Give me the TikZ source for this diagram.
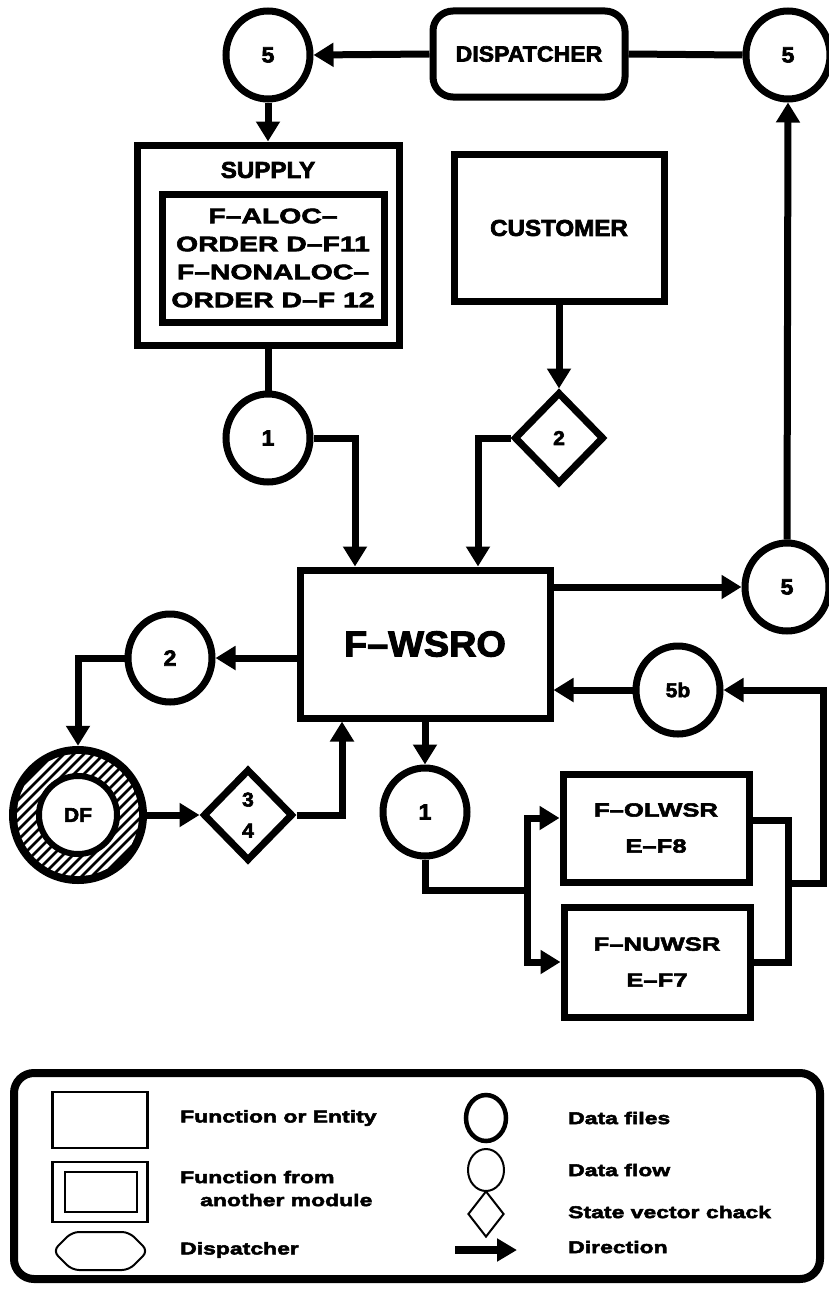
\documentclass[tikz,border=0pt]{standalone}
\usepackage{fontspec}
\usepackage{graphicx}
\usetikzlibrary{arrows.meta,shapes.geometric,calc}
\newfontfamily\fW[FakeStretch=1.35,FakeBold=3]{Liberation Sans}
\newfontfamily\fN[FakeStretch=1.05,FakeBold=3]{Liberation Sans}
\newcommand\fsz[2]{\fontsize{#1}{#2}\selectfont}
\begin{document}
\begin{tikzpicture}[x=1pt,y=-1pt,
  ln/.style={line width=7pt},
  arr/.style={line width=7pt,-{Triangle[length=20pt,width=23pt]}},
  fbox/.style={draw,rectangle,line width=7pt,inner sep=0pt,align=center},
  flow/.style={draw,ellipse,line width=7pt,minimum width=84pt,minimum height=88pt,inner sep=0pt,font=\fN\bfseries\fsz{22}{26}},
  chk/.style={draw,diamond,line width=7pt,minimum width=90pt,minimum height=92pt,inner sep=0pt,align=center,font=\fN\bfseries\fsz{20}{31}},
  lgt/.style={anchor=west,inner sep=0pt,font=\fW\bfseries\fsz{17}{20}},
  thin/.style={draw,line width=2.5pt,inner sep=0pt}
]
\useasboundingbox (0,0) rectangle (828,1290);

% top row
\node[flow] (c5a) at (268,55) {5};
\node[fbox,rounded corners=20pt,minimum width=192pt,minimum height=86pt,font=\fN\bfseries\fsz{22}{26}] (disp) at (529,54) {DISPATCHER};
\node[flow] (c5b) at (788,55) {5};

% supply
\node[fbox,minimum width=262pt,minimum height=200pt] (sup) at (268,245) {};
\node[font=\fN\bfseries\fsz{23}{26},inner sep=0pt] (suptitle) at (268,170) {SUPPLY};
\node[fbox,minimum width=222pt,minimum height=128pt,font=\fW\bfseries\fsz{21}{28}] (supin) at (273,258) {F–ALOC–\\ORDER D–F11\\F–NONALOC–\\ORDER D–F 12};

% customer
\node[fbox,minimum width=210pt,minimum height=147pt,font=\fN\bfseries\fsz{23}{26}] (cust) at (559,228) {CUSTOMER};

% middle
\node[flow] (c1a) at (268,438) {1};
\node[chk] (chk2) at (559,438) {2};
\node[fbox,minimum width=250pt,minimum height=148pt,font=\fN\bfseries\fsz{36}{40}] (wsro) at (425,644) {F–WSRO};
\node[flow] (c5m) at (787,587) {5};
\node[flow] (c2) at (170,658) {2};
\node[flow,font=\fN\bfseries\fsz{20}{24}] (c5x) at (678,690) {5b};

% DF hatched data file
\node[circle,fill=black,minimum size=138pt,inner sep=0pt] (df) at (78,815) {};
\begin{scope}[even odd rule]
  \clip (df.center) circle (61pt) (df.center) circle (40pt);
  \foreach \i in {-9,...,9}
    \draw[white,line width=4pt] ($(df.center)+(\i*10-80,80)$) -- ++(160,-160);
\end{scope}
\fill[white] (df.center) circle (39pt);
\draw[line width=6pt] (df.center) circle (39pt);
\node[font=\fN\bfseries\fsz{20}{24},inner sep=0pt] (dftext) at (df.center) {DF};

\node[chk] (chk34) at (248,815) {3\\4};
\node[flow] (c1b) at (425,812) {1};

\node[fbox,minimum width=186pt,minimum height=108pt,font=\fW\bfseries\fsz{19}{36}] (olw) at (656,828) {F–OLWSR\\E–F8};
\node[fbox,minimum width=186pt,minimum height=110pt,font=\fW\bfseries\fsz{19}{36}] (nuw) at (657,962) {F–NUWSR\\E–F7};

% connectors
\draw[arr] (disp.west) -- (c5a.east);
\draw[ln] (disp.east) -- (c5b.west);
\draw[arr] (c5a.south) -- (sup.north);
\draw[arr] (c5m.north) -- (c5b.south);
\draw[ln] (sup.south) -- (c1a.north);
\draw[arr] (c1a.east) -| ([xshift=-70pt]wsro.north);
\draw[arr] (cust.south) -- (chk2.north);
\draw[arr] (chk2.west) -| ([xshift=53pt]wsro.north);
\draw[arr] (wsro.east |- c5m.west) -- (c5m.west);
\draw[arr] (wsro.west |- c2.east) -- (c2.east);
\draw[arr] (c2.west) -| (df.north);
\draw[arr] (df.east) -- (chk34.west);
\draw[arr] (chk34.east) -| ([xshift=-83pt]wsro.south);
\draw[arr] (c5x.west) -- (wsro.east |- c5x.west);
\draw[arr] (wsro.south) -- (c1b.north);
\coordinate (tr) at (527,890);
\draw[ln] (c1b.south) |- (tr);
\draw[arr] (tr) |- ([yshift=10pt]olw.west);
\draw[arr] (tr) |- (nuw.west);
\coordinate (m1) at (788,883);
\coordinate (m2) at (823,883);
\draw[ln] ([yshift=8pt]olw.east) -| (m1) |- (nuw.east);
\draw[arr] (m1) -- (m2) |- (c5x.east);

% legend
\node[draw,line width=8pt,rounded corners=20pt,minimum width=806pt,minimum height=206pt] (leg) at (417,1176) {};
\node[thin,minimum width=95pt,minimum height=56pt] (lg1) at (100,1120) {};
\node[thin,minimum width=95pt,minimum height=60pt] (lg2o) at (100,1192) {};
\node[thin,minimum width=72pt,minimum height=40pt] (lg2i) at (101,1192) {};
\draw[line width=2pt,rounded corners=7pt] (53,1251) -- (72,1232) -- (129,1232) -- (148,1251) -- (129,1270) -- (72,1270) -- cycle;
\node[lgt] (t1) at (180,1118) {Function or Entity};
\node[lgt] (t2) at (180,1177) {Function from};
\node[lgt] (t3) at (200,1200) {another module};
\node[lgt] (t4) at (180,1250) {Dispatcher};
\node[draw,ellipse,line width=4.5pt,minimum width=40pt,minimum height=46pt,inner sep=0pt] (lg4) at (486,1118) {};
\node[draw,ellipse,line width=2pt,minimum width=36pt,minimum height=42pt,inner sep=0pt] (lg5) at (486,1170) {};
\node[draw,diamond,line width=2pt,minimum width=36pt,minimum height=46pt,inner sep=0pt] (lg6) at (486,1214) {};
\coordinate (la) at (455,1250);
\coordinate (lb) at (517,1250);
\draw[line width=8pt,-{Triangle[length=20pt,width=22pt]}] (la) -- (lb);
\node[lgt] (t5) at (568,1118) {Data files};
\node[lgt] (t6) at (568,1170) {Data flow};
\node[lgt] (t7) at (568,1212) {State vector chack};
\node[lgt] (t8) at (568,1247) {Direction};
\end{tikzpicture}
\end{document}
